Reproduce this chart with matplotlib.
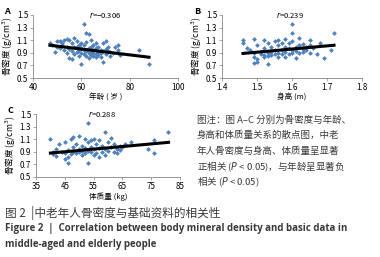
import matplotlib
matplotlib.use("Agg")
import matplotlib.pyplot as plt

plt.rcParams['font.family'] = ['Noto Sans CJK SC', 'DejaVu Sans']

# panel A: age vs BMD
age = [47, 48, 49, 50, 50, 51, 51, 52, 52, 53, 53, 54, 54, 54, 55, 55, 55, 56, 56, 56,
       57, 57, 57, 58, 58, 58, 59, 59, 59, 60, 60, 60, 60, 61, 61, 61, 61, 62, 62, 62,
       62, 63, 63, 63, 63, 64, 64, 64, 64, 65, 65, 65, 65, 66, 66, 66, 66, 67, 67, 67,
       68, 68, 68, 69, 69, 69, 70, 70, 70, 71, 71, 72, 72, 73, 74, 75, 75, 76, 84, 88]
bmd_age = [1.06, 1.03, 0.92, 1.08, 1.00, 1.09, 0.97, 1.06, 1.02, 0.95, 1.10, 1.12, 0.90, 1.00,
           0.82, 1.11, 0.96, 0.80, 1.05, 0.93, 1.13, 0.99, 0.88, 1.00, 0.92, 1.08, 0.85, 0.95,
           1.02, 0.73, 0.90, 0.98, 1.05, 1.36, 0.88, 0.95, 1.03, 1.22, 0.93, 0.85, 1.07, 1.20,
           0.90, 0.98, 0.82, 1.10, 0.92, 0.87, 1.00, 0.95, 0.85, 0.90, 1.02, 0.88, 0.97, 0.83,
           1.05, 0.92, 0.86, 1.00, 0.95, 0.90, 0.84, 1.05, 0.76, 0.93, 1.08, 0.88, 0.96, 0.93,
           1.00, 0.85, 0.92, 0.90, 1.00, 0.95, 1.02, 0.87, 0.95, 0.72]
age_fit = [47, 88]
age_fit_y = [1.02, 0.83]

# panel B: height vs BMD
height = [1.46, 1.46, 1.47, 1.48, 1.49, 1.49, 1.49, 1.49, 1.50, 1.50, 1.50, 1.51, 1.51, 1.52,
          1.52, 1.52, 1.52, 1.53, 1.53, 1.53, 1.53, 1.54, 1.54, 1.54, 1.55, 1.55, 1.55, 1.56,
          1.56, 1.56, 1.56, 1.57, 1.57, 1.57, 1.58, 1.58, 1.58, 1.58, 1.59, 1.59, 1.59, 1.60,
          1.60, 1.60, 1.60, 1.60, 1.61, 1.61, 1.61, 1.62, 1.62, 1.62, 1.63, 1.63, 1.63, 1.64,
          1.64, 1.65, 1.65, 1.65, 1.66, 1.67, 1.68, 1.69, 1.71, 1.72]
bmd_height = [1.10, 1.06, 0.98, 0.95, 1.12, 0.84, 0.74, 0.90, 1.02, 0.80, 0.76, 0.88, 0.92, 1.10,
              0.87, 0.83, 0.97, 1.06, 0.72, 0.90, 0.85, 0.92, 1.00, 0.86, 1.08, 0.88, 0.95, 1.10,
              0.90, 0.83, 1.02, 0.95, 1.06, 0.88, 1.12, 0.92, 0.84, 1.00, 0.97, 0.88, 1.05, 1.35,
              1.22, 1.08, 0.90, 0.95, 0.82, 1.00, 0.93, 1.14, 1.03, 0.90, 0.96, 1.04, 0.92, 1.00,
              0.94, 1.10, 0.90, 1.03, 0.97, 0.88, 1.05, 0.82, 0.94, 1.21]
height_fit = [1.46, 1.72]
height_fit_y = [0.89, 1.02]

# panel C: body mass vs BMD
weight = [40, 41, 41, 42, 42, 43, 44, 45, 45, 45, 46, 46, 46, 47, 47, 48, 48, 48, 49, 49,
          50, 50, 50, 51, 51, 51, 52, 52, 52, 53, 53, 53, 53, 54, 54, 54, 55, 55, 55, 56,
          56, 57, 57, 57, 58, 58, 59, 59, 59, 60, 60, 61, 61, 62, 62, 63, 63, 64, 64, 65,
          66, 68, 74, 76, 76, 81]
bmd_weight = [1.10, 0.86, 0.90, 0.84, 0.95, 1.02, 0.90, 1.05, 0.78, 0.88, 0.72, 0.82, 0.93, 1.10,
              0.86, 0.98, 0.90, 1.13, 1.02, 0.88, 1.15, 0.95, 0.90, 0.85, 1.00, 0.92, 1.10, 0.88,
              0.96, 1.36, 0.73, 0.92, 1.05, 1.08, 0.90, 0.98, 1.10, 0.85, 0.94, 1.02, 0.88, 0.96,
              0.82, 1.08, 1.00, 0.90, 1.21, 0.95, 0.85, 1.05, 0.92, 1.12, 0.98, 0.90, 1.02, 0.95,
              0.88, 1.00, 0.93, 0.97, 1.03, 1.06, 0.94, 0.88, 1.08, 1.22]
weight_fit = [40, 81]
weight_fit_y = [0.88, 1.05]

W, H = 380, 257
fig = plt.figure(figsize=(W / 100, H / 100), dpi=100)


def px_axes(x0, y0, x1, y1):
    return fig.add_axes([x0 / W, 1 - y1 / H, (x1 - x0) / W, (y1 - y0) / H])


def panel(ax, x, y, fx, fy, xlim, xticks, xlabel, rtext, rx, letter):
    ax.scatter(x, y, marker='D', s=6, color='#4F81BD', linewidths=0, zorder=2)
    ax.plot(fx, fy, color='black', lw=2.2, zorder=3)
    ax.set_xlim(*xlim)
    ax.set_ylim(0.5, 1.5)
    ax.set_xticks(xticks)
    ax.set_yticks([0.5, 0.7, 0.9, 1.1, 1.3, 1.5])
    ax.set_yticklabels(['0.5', '0.7', '0.9', '1.1', '1.3', '1.5'])
    for s in ['top', 'right']:
        ax.spines[s].set_visible(False)
    for s in ['left', 'bottom']:
        ax.spines[s].set_color('#868686')
        ax.spines[s].set_linewidth(0.6)
    ax.tick_params(labelsize=5.8, length=2, width=0.5, color='#868686', pad=1.5)
    ax.set_xlabel(xlabel, fontsize=5.5, labelpad=1)
    ax.set_ylabel('骨密度 (g/cm$^3$)', fontsize=6.2, labelpad=1)
    ax.text(rx, 1.5, rtext, fontsize=5.5, ha='center', va='center')
    ax.text(-0.2, 1.05, letter, transform=ax.transAxes, fontsize=6.5,
            fontweight='bold', ha='left', va='center')


axA = px_axes(33, 15, 178, 78)
panel(axA, age, bmd_age, age_fit, age_fit_y, (40, 100), [40, 60, 80, 100],
      '年龄 ( 岁 )', '$r$=−0.306', 70, 'A')
axA.set_xticklabels(['40', '60', '80', '100'])

axB = px_axes(222, 15, 362, 78)
panel(axB, height, bmd_height, height_fit, height_fit_y, (1.4, 1.8),
      [1.4, 1.5, 1.6, 1.7, 1.8], '身高 (m)', '$r$=0.239', 1.594, 'B')
axB.set_xticklabels(['1.4', '1.5', '1.6', '1.7', '1.8'])

axC = px_axes(36, 114, 180, 177)
panel(axC, weight, bmd_weight, weight_fit, weight_fit_y, (35, 85),
      [35, 45, 55, 65, 75, 85], '体质量 (kg)', '$r$=0.288', 58, 'C')

note = ['图注：图 A–C 分别为骨密度与年龄、',
        '身高和体质量关系的散点图，中老',
        '年人骨密度与身高、体质量呈显著',
        '正相关 ($P$ < 0.05)，与年龄呈显著负',
        '相关 ($P$ < 0.05)']
for i, line in enumerate(note):
    fig.text(197 / W, 1 - (120 + i * 15.6) / H, line, fontsize=6.85,
             ha='left', va='center', color='#3a3a3a')

fig.text(5 / W, 1 - 213 / H, '图 2  |中老年人骨密度与基础资料的相关性', fontsize=8.4,
         ha='left', va='center', color='#3a3a3a')
fig.text(5 / W, 1 - 229 / H,
         'Figure 2  |  Correlation between body mineral density and basic data in',
         fontsize=7.0, fontweight='bold', family=['Open Sans', 'DejaVu Sans'],
         ha='left', va='center', color='#3a3a3a')
fig.text(5 / W, 1 - 245 / H, 'middle-aged and elderly people',
         fontsize=7.0, fontweight='bold', family=['Open Sans', 'DejaVu Sans'],
         ha='left', va='center', color='#3a3a3a')

fig.savefig('out.png', dpi=100)
